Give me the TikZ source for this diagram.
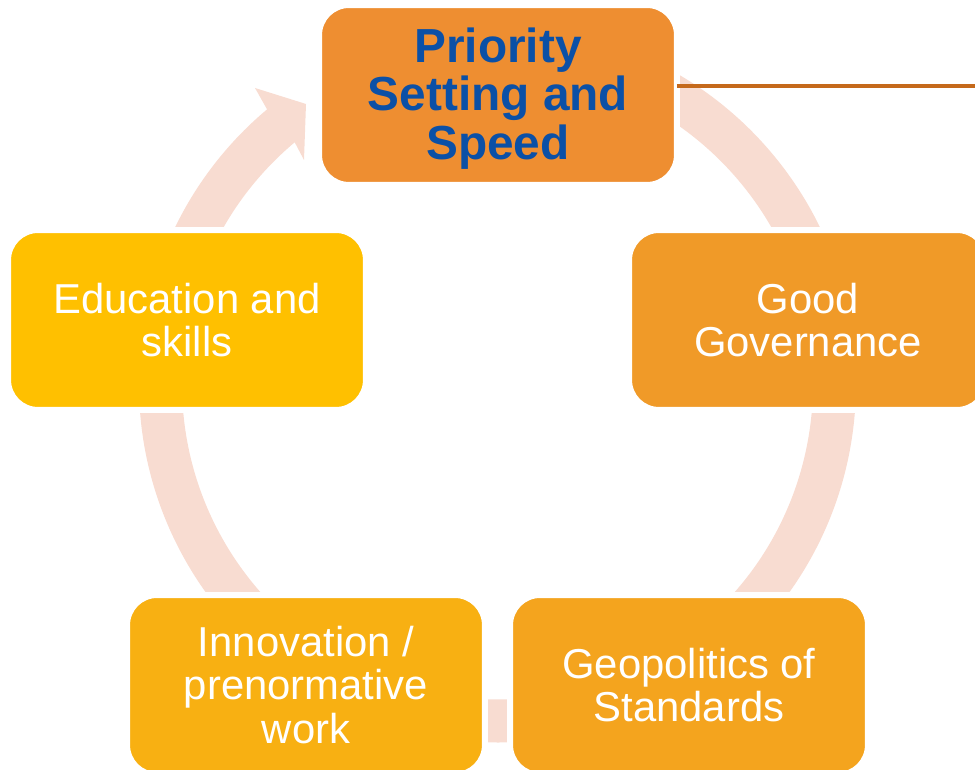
\documentclass[tikz,border=0pt]{standalone}
\usepackage{fontspec}
\setmainfont{Liberation Sans}
\usepackage{tikz}

\definecolor{ringpink}{HTML}{F8DCD1}
\definecolor{prioorange}{HTML}{EE8E31}
\definecolor{governorange}{HTML}{F09A28}
\definecolor{geoorange}{HTML}{F4A41E}
\definecolor{innovorange}{HTML}{F8B012}
\definecolor{eduyellow}{HTML}{FFC000}
\definecolor{prioblue}{HTML}{0B50A6}
\definecolor{brownline}{HTML}{C5691B}

\begin{document}
\begin{tikzpicture}[x=0.02cm, y=0.02cm,
    box/.style={rounded corners=0.6cm, draw=white, line width=0.12cm,
        minimum width=7.16cm, minimum height=3.6cm, align=center, text=white,
        font=\fontsize{23.8pt}{24.9pt}\selectfont}]
    \useasboundingbox (0,0) rectangle (975,770);
    \clip (0,0) rectangle (975,770);

    % ring, arrow head at top left
    \begin{scope}[shift={(497.5,386)}]
        \fill[ringpink] (85:358.5) arc[start angle=85, end angle=-230, radius=358.5]
            -- (-242.5,296) -- (-191.5,280) -- (-193.5,224) % head
            -- (130:315.5) arc[start angle=-230, end angle=85, radius=315.5] -- cycle;
    \end{scope}

    \node[box, fill=prioorange, text=prioblue,
        font=\fontsize{27.2pt}{27.8pt}\selectfont\bfseries] (prio) at (498,675) {\\[-4pt]Priority\\Setting and\\Speed}; % top
    \node[box, fill=governorange] (govern) at (808,450) {Good\\Governance}; % right
    \node[box, fill=geoorange] (geo) at (689,85) {Geopolitics of\\Standards}; % bottom right
    \node[box, fill=innovorange] (innov) at (306,85) {Innovation /\\prenormative\\work}; % bottom left
    \node[box, fill=eduyellow] (edu) at (187,450) {Education and\\skills}; % left

    \coordinate (lineend) at (975,684);
    \draw[brownline, line width=0.07cm] ([xshift=-0.06cm]prio.east |- lineend) -- (lineend);
\end{tikzpicture}
\end{document}
